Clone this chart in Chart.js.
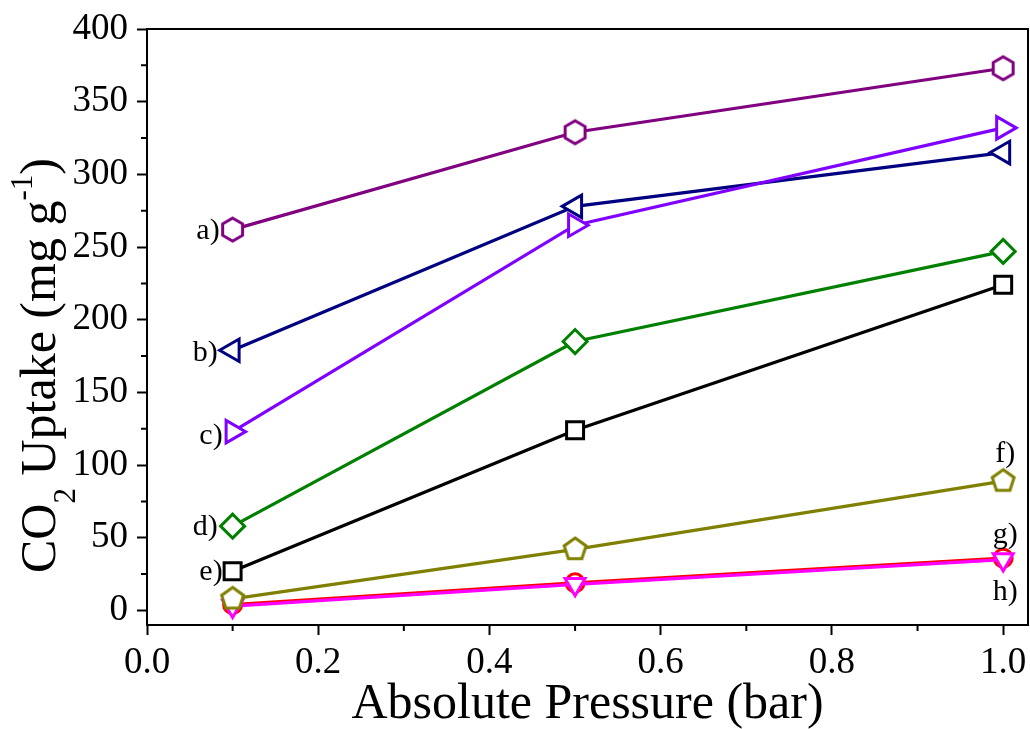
<!DOCTYPE html>
<html>
<head>
<meta charset="utf-8">
<script src="https://cdn.jsdelivr.net/npm/chart.js@4/dist/chart.umd.min.js"></script>
<style>
    html, body { margin: 0; padding: 0; background: #fff; }
    #wrap { width: 1030px; height: 729px; }
</style>
</head>
<body>
<div id="wrap"><canvas id="chart" width="1030" height="729"></canvas></div>
<script>
const pressure = [0.1, 0.5, 1.0];
const seriesA = [262, 329, 373];
const seriesB = [179, 278, 315];
const seriesC = [123, 265, 332];
const seriesD = [58, 185, 247];
const seriesE = [27, 124, 224];
const seriesF = [8, 42, 89];
const seriesG = [4, 19, 36];
const seriesH = [3, 18, 35];
const seriesLabels = ['a)', 'b)', 'c)', 'd)', 'e)', 'f)', 'g)', 'h)'];
const xTicks = [0.0, 0.2, 0.4, 0.6, 0.8, 1.0];
const yTicks = [0, 50, 100, 150, 200, 250, 300, 350, 400];

const SERIF = '"Liberation Serif", "DejaVu Serif", serif';

// hollow polygon marker drawn on a small canvas (Chart.js has no hexagon/pentagon)
function polyMarker(sides, r, color) {
    const c = document.createElement('canvas');
    const size = Math.ceil(2 * r + 8);
    c.width = size;
    c.height = size;
    const g = c.getContext('2d');
    g.beginPath();
    for (let i = 0; i < sides; i++) {
        const ang = -Math.PI / 2 + i * 2 * Math.PI / sides;
        const px = size / 2 + r * Math.cos(ang);
        const py = size / 2 + r * Math.sin(ang);
        if (i === 0) g.moveTo(px, py); else g.lineTo(px, py);
    }
    g.closePath();
    g.fillStyle = '#fff';
    g.fill();
    g.lineWidth = 3;
    g.strokeStyle = color;
    g.stroke();
    return c;
}

function series(values, color, style, radius, rotation, order) {
    return {
        data: values.map((v, i) => ({ x: pressure[i], y: v })),
        borderColor: color,
        backgroundColor: '#fff',
        borderWidth: 3.2,
        pointStyle: style,
        pointRadius: radius,
        pointRotation: rotation,
        pointBorderWidth: 3,
        pointBorderColor: color,
        pointBackgroundColor: '#fff',
        tension: 0,
        order: order,
        clip: false
    };
}

const datasets = [
    series(seriesA, '#800080', polyMarker(6, 11.5, '#800080'), 11, 0, 7),
    series(seriesB, '#000080', 'triangle', 13, -90, 6),
    series(seriesC, '#8000ff', 'triangle', 13, 90, 5),
    series(seriesD, '#008000', 'rectRot', 12, 0, 4),
    series(seriesE, '#000000', 'rect', 12, 0, 3),
    series(seriesF, '#808000', polyMarker(5, 11.5, '#808000'), 11, 0, 0),
    series(seriesG, '#ff0000', 'circle', 9, 0, 2),
    series(seriesH, '#ff00ff', 'triangle', 11.5, 180, 1)
];

// label placement: [point index, dx, dy, align]
const labelPlace = [
    [0, -13, 2, 'right'],
    [0, -15, 3, 'right'],
    [0, -10, 4, 'right'],
    [0, -15, 1, 'right'],
    [0, -10, 1, 'right'],
    [2, 2, -27, 'center'],
    [2, 2, -23, 'center'],
    [2, 2, 33, 'center']
];

const decorPlugin = {
    id: 'decor',
    afterDraw(chart) {
        const ctx = chart.ctx;
        const area = chart.chartArea;
        const xs = chart.scales.x;
        const ys = chart.scales.y;
        ctx.save();

        // frame top and right
        ctx.strokeStyle = '#000';
        ctx.lineWidth = 2;
        ctx.beginPath();
        ctx.moveTo(area.left, area.top);
        ctx.lineTo(area.right, area.top);
        ctx.lineTo(area.right, area.bottom);
        ctx.stroke();

        // minor ticks
        ctx.beginPath();
        for (let i = 0; i < xTicks.length - 1; i++) {
            const px = xs.getPixelForValue((xTicks[i] + xTicks[i + 1]) / 2);
            ctx.moveTo(px, area.bottom);
            ctx.lineTo(px, area.bottom + 6);
        }
        for (let i = 0; i < yTicks.length - 1; i++) {
            const py = ys.getPixelForValue((yTicks[i] + yTicks[i + 1]) / 2);
            ctx.moveTo(area.left, py);
            ctx.lineTo(area.left - 6, py);
        }
        ctx.stroke();

        // series labels
        ctx.fillStyle = '#000';
        ctx.font = '30px ' + SERIF;
        ctx.textBaseline = 'middle';
        const all = [seriesA, seriesB, seriesC, seriesD, seriesE, seriesF, seriesG, seriesH];
        seriesLabels.forEach((lab, k) => {
            const [idx, dx, dy, align] = labelPlace[k];
            const px = xs.getPixelForValue(pressure[idx]);
            const py = ys.getPixelForValue(all[k][idx]);
            ctx.textAlign = align;
            ctx.fillText(lab, px + dx, py + dy);
        });

        // y axis title with sub/superscripts
        ctx.translate(55, 573);
        ctx.rotate(-Math.PI / 2);
        ctx.textAlign = 'left';
        ctx.textBaseline = 'alphabetic';
        let pos = 0;
        const part = (txt, size, shift) => {
            ctx.font = size + 'px ' + SERIF;
            ctx.fillText(txt, pos, shift);
            pos += ctx.measureText(txt).width;
        };
        part('CO', 50, 0);
        part('2', 31, 20);
        part(' Uptake (mg g', 50, 0);
        part('-1', 31, -23);
        part(')', 50, 0);
        ctx.restore();
    }
};

new Chart(document.getElementById('chart'), {
    type: 'line',
    data: { datasets: datasets },
    options: {
        responsive: false,
        devicePixelRatio: 1,
        animation: false,
        events: [],
        layout: { autoPadding: false, padding: { top: 29, right: 2, left: 0, bottom: 0 } },
        plugins: {
            legend: { display: false },
            tooltip: { enabled: false }
        },
        scales: {
            x: {
                type: 'linear',
                min: 0,
                max: 1.029,
                afterFit: s => { s.height = 104; s.paddingLeft = 0; s.paddingRight = 0; },
                afterBuildTicks: s => { s.ticks = xTicks.map(v => ({ value: v })); },
                border: { display: true, color: '#000', width: 2 },
                grid: { drawOnChartArea: false, drawTicks: true, tickLength: 10, tickColor: '#000', tickWidth: 2 },
                ticks: {
                    color: '#000',
                    font: { family: SERIF, size: 37 },
                    padding: 6,
                    maxRotation: 0,
                    callback: v => v.toFixed(1)
                },
                title: {
                    display: true,
                    text: 'Absolute Pressure (bar)',
                    color: '#000',
                    font: { family: SERIF, size: 50 },
                    padding: { top: 0, bottom: -6 }
                }
            },
            y: {
                type: 'linear',
                min: -10,
                max: 400,
                afterFit: s => { s.width = 147; s.paddingTop = 0; s.paddingBottom = 0; },
                afterBuildTicks: s => { s.ticks = yTicks.map(v => ({ value: v })); },
                border: { display: true, color: '#000', width: 2 },
                grid: { drawOnChartArea: false, drawTicks: true, tickLength: 10, tickColor: '#000', tickWidth: 2 },
                ticks: {
                    color: '#000',
                    font: { family: SERIF, size: 37 },
                    padding: 9
                }
            }
        }
    },
    plugins: [decorPlugin]
});
</script>
</body>
</html>
